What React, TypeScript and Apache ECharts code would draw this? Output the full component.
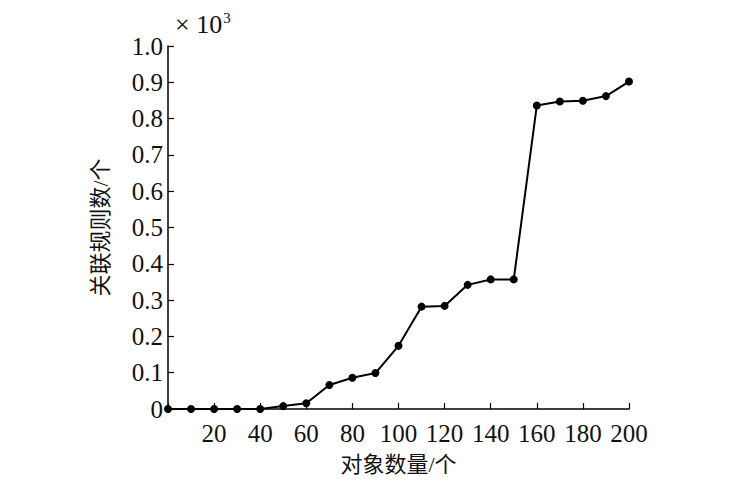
import React, { useEffect, useRef } from "react";
import * as echarts from "echarts";

const xValues = [0, 10, 20, 30, 40, 50, 60, 70, 80, 90, 100, 110, 120, 130, 140, 150, 160, 170, 180, 190, 200];
const yValues = [0, 0, 0, 0, 0, 0.008, 0.016, 0.066, 0.086, 0.099, 0.174, 0.282, 0.284, 0.342, 0.357, 0.357, 0.836, 0.847, 0.849, 0.862, 0.902];
const xName = "对象数量/个";
const yName = "关联规则数/个";

const FONT = "'Liberation Serif', 'Noto Sans CJK SC', serif";

export default function App() {
  const ref = useRef<HTMLDivElement>(null);
  useEffect(() => {
    if (!ref.current) return;
    const chart = echarts.init(ref.current, null, { renderer: "svg" });
    chart.setOption({
      animation: false,
      backgroundColor: "#ffffff",
      grid: { left: 168, right: 121, top: 46, bottom: 78 },
      xAxis: {
        type: "value",
        min: 0,
        max: 200,
        interval: 20,
        name: xName,
        nameLocation: "middle",
        nameGap: 44,
        nameTextStyle: { fontFamily: FONT, fontSize: 22, color: "#111" },
        axisLine: { show: true, lineStyle: { color: "#000", width: 1.5 } },
        axisTick: { show: true, inside: true, length: 6, lineStyle: { color: "#000", width: 1.2 } },
        axisLabel: {
          fontFamily: FONT,
          fontSize: 25,
          color: "#111",
          margin: 12,
          formatter: (v: number) => (v === 0 ? "" : String(v)),
        },
        splitLine: { show: false },
      },
      yAxis: {
        type: "value",
        min: 0,
        max: 1,
        interval: 0.1,
        name: yName,
        nameLocation: "middle",
        nameGap: 57,
        nameTextStyle: { fontFamily: FONT, fontSize: 22, color: "#111" },
        axisLine: { show: true, lineStyle: { color: "#000", width: 1.5 } },
        axisTick: { show: true, inside: true, length: 6, lineStyle: { color: "#000", width: 1.2 } },
        axisLabel: {
          fontFamily: FONT,
          fontSize: 25,
          color: "#111",
          margin: 5,
          formatter: (v: number) => (v === 0 ? "0" : v.toFixed(1)),
        },
        splitLine: { show: false },
      },
      graphic: [
        {
          type: "text",
          left: 175,
          top: 10,
          style: {
            text: "× 10{s|3}",
            fontFamily: FONT,
            fontSize: 26,
            fill: "#111",
            rich: {
              s: { fontFamily: FONT, fontSize: 15, fill: "#111", verticalAlign: "top", padding: [0, 0, 13, 1] },
            },
          },
        },
      ],
      series: [
        {
          type: "line",
          data: xValues.map((x, i) => [x, yValues[i]]),
          symbol: "circle",
          symbolSize: 8,
          lineStyle: { color: "#000", width: 2 },
          itemStyle: { color: "#000" },
        },
      ],
    });
    return () => chart.dispose();
  }, []);
  return (
    <div
      ref={ref}
      style={{ position: "fixed", left: 0, top: 0, width: 750, height: 487, background: "#fff" }}
    />
  );
}
